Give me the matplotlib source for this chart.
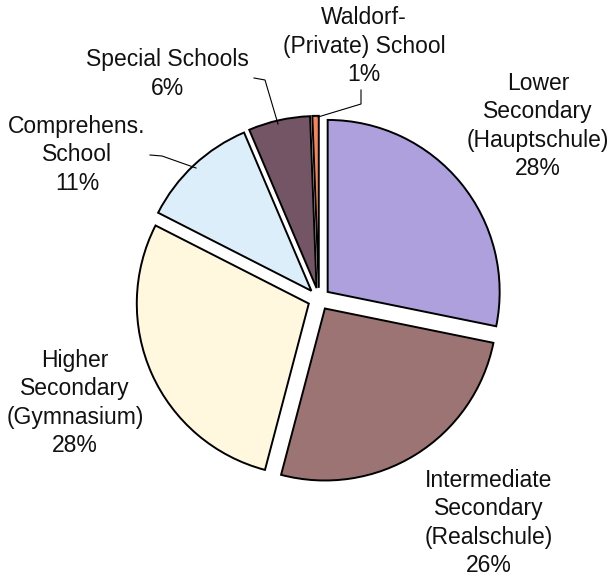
import matplotlib
matplotlib.use("Agg")
import matplotlib.pyplot as plt

categories = ["Lower\nSecondary\n(Hauptschule)", "Intermediate\nSecondary\n(Realschule)",
              "Higher\nSecondary\n(Gymnasium)", "Comprehens.\nSchool", "Special Schools",
              "Waldorf-\n(Private) School"]
values = [28.2, 25.9, 28.4, 11.1, 5.8, 0.6]
pct_labels = ["28%", "26%", "28%", "11%", "6%", "1%"]
colors = ["#AE9FDD", "#9D7474", "#FFF8DE", "#DCEEFA", "#735566", "#F4845A"]

W, H = 612, 578
CX, CY, R = 319, 299, 172

def px(x, y):
    return ((x - CX) / R, (CY - y) / R)

fig = plt.figure(figsize=(W / 100, H / 100), dpi=100)
ax = fig.add_axes([0, 0, 1, 1])
ax.pie(values, colors=colors, startangle=90, counterclock=False,
       explode=[0.065] * len(values),
       wedgeprops=dict(edgecolor="black", linewidth=1.4))
ax.set_xlim(-CX / R, (W - CX) / R)
ax.set_ylim(-(H - CY) / R, CY / R)
ax.set_aspect("equal")
ax.axis("off")

label_pos = [(538, 126), (489, 523), (75, 403), (77, 155), (167, 74), (364, 46)]
for name, pct, (lx, ly) in zip(categories, pct_labels, label_pos):
    x, y = px(lx, ly)
    ax.text(x, y, name + "\n" + pct, ha="center", va="center", fontsize=16.5,
            family="Liberation Sans", linespacing=1.3, color="#111111")

leaders = [
    [(254, 78), (265, 80), (278, 124)],
    [(361, 90), (361, 104), (318, 117)],
    [(150, 155), (162, 156), (196, 168)],
]
for pts in leaders:
    xs, ys = zip(*[px(a, b) for a, b in pts])
    ax.plot(xs, ys, color="black", lw=0.8)

fig.savefig("out.png", dpi=100)
